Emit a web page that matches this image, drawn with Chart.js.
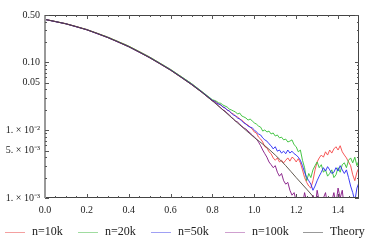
<!DOCTYPE html>
<html>
<head>
<meta charset="utf-8">
<script src="https://cdn.jsdelivr.net/npm/chart.js@4.4.1/dist/chart.umd.min.js"></script>
<style>
  html, body { margin: 0; padding: 0; background: #fff; }
  #wrap { position: relative; width: 374px; height: 247px; }
  #legend {
    position: absolute; left: 0; top: 223px; width: 374px; height: 16px;
    font-family: "Times New Roman", "Liberation Serif", serif; font-size: 12px; color: #222;
  }
  #legend .item { position: absolute; top: 0; white-space: nowrap; line-height: 16px; }
  #legend .line { display: inline-block; width: 20px; height: 0; border-top: 1px solid; vertical-align: middle; margin-right: 7px; }
</style>
</head>
<body>
<div id="wrap">
  <canvas id="chart" width="374" height="247"></canvas>
  <div id="legend"></div>
</div>
<script>
// x grid shared by the simulated series
const xs = [0, 0.1, 0.2, 0.3, 0.4, 0.5, 0.6, 0.7, 0.75,
  0.80, 0.81, 0.82, 0.83, 0.84, 0.85, 0.86, 0.87, 0.88, 0.89,
  0.90, 0.91, 0.92, 0.93, 0.94, 0.95, 0.96, 0.97, 0.98, 0.99,
  1.00, 1.01, 1.02, 1.03, 1.04, 1.05, 1.06, 1.07, 1.08, 1.09,
  1.10, 1.11, 1.12, 1.13, 1.14, 1.15, 1.16, 1.17, 1.18, 1.19,
  1.20, 1.21, 1.22, 1.23, 1.24, 1.25, 1.26, 1.27, 1.28, 1.29,
  1.30, 1.31, 1.32, 1.33, 1.34, 1.35, 1.36, 1.37, 1.38, 1.39,
  1.40, 1.41, 1.42, 1.43, 1.44, 1.45, 1.46, 1.47, 1.48, 1.49,
  1.50];

const n10k = [0.432, 0.373, 0.306, 0.236, 0.174, 0.120, 0.0785, 0.0485, 0.0368,
  0.0276, 0.0268, 0.0259, 0.0243, 0.0235, 0.0220, 0.0213, 0.0199, 0.0192, 0.0179,
  0.0173, 0.0162, 0.0157, 0.0146, 0.0141, 0.0132, 0.0123, 0.0119, 0.0111, 0.0104,
  0.0094, 0.0091, 0.0079, 0.0074, 0.0067, 0.0057, 0.0055, 0.0048, 0.0045, 0.0039,
  0.0036, 0.0039, 0.0034, 0.0036, 0.0033, 0.0036, 0.0039, 0.0035, 0.0040, 0.0038,
  0.0034, 0.0038, 0.0033, 0.0026, 0.0020, 0.0017, 0.0015, 0.0014, 0.0018, 0.0026,
  0.0034, 0.0039, 0.0043, 0.0040, 0.0048, 0.0043, 0.0051, 0.0046, 0.0053, 0.0057,
  0.0051, 0.0059, 0.0048, 0.0043, 0.0039, 0.0034, 0.0030, 0.0022, 0.0018, 0.0024,
  0.0028];

const n20k = [0.431, 0.372, 0.305, 0.236, 0.174, 0.120, 0.0788, 0.0488, 0.0371,
  0.0281, 0.0275, 0.0266, 0.0252, 0.0249, 0.0235, 0.0227, 0.0220, 0.0205, 0.0199,
  0.0192, 0.0186, 0.0173, 0.0179, 0.0162, 0.0157, 0.0151, 0.0141, 0.0146, 0.0137,
  0.0128, 0.0123, 0.0115, 0.0111, 0.0097, 0.0101, 0.0094, 0.0097, 0.0088, 0.0091,
  0.0082, 0.0085, 0.0077, 0.0079, 0.0072, 0.0074, 0.0067, 0.0069, 0.0072, 0.0061,
  0.0057, 0.0048, 0.0051, 0.0036, 0.0028, 0.0018, 0.0023, 0.0020, 0.0026, 0.0030,
  0.0034, 0.0028, 0.0031, 0.0024, 0.0026, 0.0021, 0.0023, 0.0026, 0.0020, 0.0022,
  0.0028, 0.0024, 0.0031, 0.0033, 0.0028, 0.0036, 0.0039, 0.0033, 0.0040, 0.0030,
  0.0036];

const n50k = [0.430, 0.371, 0.303, 0.233, 0.171, 0.118, 0.0775, 0.0478, 0.0365,
  0.0275, 0.0267, 0.0252, 0.0243, 0.0235, 0.0220, 0.0213, 0.0199, 0.0192, 0.0179,
  0.0168, 0.0162, 0.0151, 0.0146, 0.0137, 0.0128, 0.0123, 0.0115, 0.0111, 0.0108,
  0.0101, 0.0094, 0.0088, 0.0085, 0.0077, 0.0072, 0.0069, 0.0063, 0.0059, 0.0053,
  0.0057, 0.0049, 0.0051, 0.0046, 0.0049, 0.0045, 0.0051, 0.0046, 0.0049, 0.0045,
  0.0043, 0.0040, 0.0036, 0.0030, 0.0024, 0.0020, 0.0018, 0.0016, 0.0013, 0.0015,
  0.0018, 0.0021, 0.0024, 0.0028, 0.0025, 0.0029, 0.0026, 0.0023, 0.0024, 0.0028,
  0.0025, 0.0030, 0.0026, 0.0023, 0.0026, 0.0020, 0.0015, 0.0012, 0.0009, 0.0014,
  0.0017];

const n100k = [0.430, 0.370, 0.302, 0.232, 0.170, 0.117, 0.0767, 0.0472, 0.0361,
  0.0270, 0.0261, 0.0243, 0.0227, 0.0213, 0.0199, 0.0192, 0.0179, 0.0168, 0.0157,
  0.0146, 0.0137, 0.0132, 0.0123, 0.0115, 0.0108, 0.0104, 0.0097, 0.0091, 0.0085,
  0.0079, 0.0074, 0.0067, 0.0059, 0.0051, 0.0045, 0.0040, 0.0034, 0.0031, 0.0028,
  0.0030, 0.0024, 0.0021, 0.0023, 0.0018, 0.0016, 0.0017, 0.0013, 0.0011, 0.0012,
  0.0009, 0.0010, 0.0007, 0.0008, 0.0012, 0.0009, 0.0006, 0.0008, 0.0011, 0.0007,
  0.0013, 0.0009, 0.0007, 0.0010, 0.0012, 0.0008, 0.0006, 0.0009, 0.0012, 0.0008,
  0.0014, 0.0010, 0.0013, 0.0007, 0.0009, 0.0006, 0.0008, 0.0005, 0.0007, 0.0006,
  0.0005];

const theoryX = [0, 0.1, 0.2, 0.3, 0.4, 0.5, 0.6, 0.7, 0.75, 0.8, 0.85, 0.9, 0.95,
  1.0, 1.05, 1.1, 1.15, 1.2, 1.25, 1.3, 1.35];
const theoryY = [0.430, 0.370, 0.302, 0.232, 0.170, 0.117, 0.0765, 0.0470, 0.0360, 0.0270,
  0.0199, 0.0145, 0.0106, 0.0078, 0.0059, 0.0043, 0.0030, 0.0020, 0.00135, 0.00090, 0.00060];

const xTicks = [0, 0.2, 0.4, 0.6, 0.8, 1.0, 1.2, 1.4];
const yTicks = [0.5, 0.1, 0.05, 0.01, 0.005, 0.001];
const yTickLabels = ['0.50', '0.10', '0.05', '1. \u00d7 10\u207b\u00b2', '5. \u00d7 10\u207b\u00b3', '1. \u00d7 10\u207b\u00b3'];
const yMinor = [0.4, 0.3, 0.2, 0.09, 0.08, 0.07, 0.06, 0.04, 0.03, 0.02,
  0.009, 0.008, 0.007, 0.006, 0.004, 0.003, 0.002];

const seriesNames = ['n=10k', 'n=20k', 'n=50k', 'n=100k', 'Theory'];
const lineColors = ['rgb(245,70,70)', 'rgb(50,190,50)', 'rgb(40,40,245)', 'rgb(130,20,130)', 'rgb(80,70,60)'];
const legendColors = ['#f4a0a0', '#a0dca0', '#a0a0f4', '#cfa0cf', '#999999'];

const pts = (xv, yv) => xv.map((x, i) => ({ x: x, y: yv[i] }));

// frame + inward ticks, Mathematica style
const framePlugin = {
  id: 'frame',
  afterDraw(chart) {
    const ctx = chart.ctx, a = chart.chartArea;
    const sx = chart.scales.x, sy = chart.scales.y;
    ctx.save();
    ctx.lineWidth = 1;
    ctx.strokeStyle = '#444';
    ctx.beginPath();
    ctx.moveTo(a.left, a.top + 0.5); ctx.lineTo(a.right, a.top + 0.5);
    ctx.moveTo(a.right - 0.5, a.top); ctx.lineTo(a.right - 0.5, a.bottom);
    ctx.moveTo(a.left, a.bottom - 0.5); ctx.lineTo(a.right, a.bottom - 0.5);
    ctx.stroke();
    ctx.strokeStyle = '#999';
    ctx.lineWidth = 2;
    ctx.beginPath();
    ctx.moveTo(a.left, a.top); ctx.lineTo(a.left, a.bottom);
    ctx.stroke();

    ctx.lineWidth = 1;
    ctx.strokeStyle = '#555';
    ctx.beginPath();
    for (let v = 0.05; v < 1.5; v += 0.05) {
      const px = Math.round(sx.getPixelForValue(v)) + 0.5;
      const major = Math.abs(v / 0.2 - Math.round(v / 0.2)) < 1e-6;
      const len = major ? 4 : 2;
      ctx.moveTo(px, a.bottom); ctx.lineTo(px, a.bottom - len);
      ctx.moveTo(px, a.top); ctx.lineTo(px, a.top + len);
    }
    yTicks.concat(yMinor).forEach((v, i) => {
      const py = Math.round(sy.getPixelForValue(v)) + 0.5;
      const len = i < yTicks.length ? 4 : 2;
      ctx.moveTo(a.left, py); ctx.lineTo(a.left + len, py);
      ctx.moveTo(a.right, py); ctx.lineTo(a.right - len, py);
    });
    ctx.stroke();
    ctx.restore();
  }
};

const tickFont = { family: "'Times New Roman', 'Liberation Serif', serif", size: 10 };

new Chart(document.getElementById('chart'), {
  type: 'line',
  data: {
    datasets: [
      { label: seriesNames[0], data: pts(xs, n10k), borderColor: lineColors[0], order: 5 },
      { label: seriesNames[1], data: pts(xs, n20k), borderColor: lineColors[1], order: 4 },
      { label: seriesNames[2], data: pts(xs, n50k), borderColor: lineColors[2], order: 3 },
      { label: seriesNames[3], data: pts(xs, n100k), borderColor: lineColors[3], order: 2 },
      { label: seriesNames[4], data: pts(theoryX, theoryY), borderColor: lineColors[4], order: 1, cubicInterpolationMode: 'monotone' }
    ]
  },
  options: {
    responsive: false,
    animation: false,
    layout: { padding: { top: 15, right: 15, left: 0, bottom: 0 } },
    elements: {
      point: { radius: 0 },
      line: { borderWidth: 0.9, fill: false }
    },
    datasets: { line: { clip: 0 } },
    scales: {
      x: {
        type: 'linear', min: 0, max: 1.5,
        afterBuildTicks: s => { s.ticks = xTicks.map(v => ({ value: v })); },
        afterFit: s => { s.height = 49; },
        grid: { display: false, drawTicks: false },
        border: { display: false },
        ticks: { font: tickFont, color: '#222', padding: 6, maxRotation: 0,
          callback: v => v.toFixed(1) }
      },
      y: {
        type: 'logarithmic', min: 0.001, max: 0.5,
        afterBuildTicks: s => { s.ticks = yTicks.map(v => ({ value: v })); },
        afterFit: s => { s.width = 45; },
        grid: { display: false, drawTicks: false },
        border: { display: false },
        ticks: { font: tickFont, color: '#222', padding: 5,
          callback: v => { const i = yTicks.indexOf(v); return i >= 0 ? yTickLabels[i] : ''; } }
      }
    },
    plugins: {
      legend: { display: false },
      tooltip: { enabled: false }
    }
  },
  plugins: [framePlugin]
});

// legend under the plot
const legendPos = [5, 78, 151, 225, 303];
const legend = document.getElementById('legend');
seriesNames.forEach((name, i) => {
  const item = document.createElement('div');
  item.className = 'item';
  item.style.left = legendPos[i] + 'px';
  item.innerHTML = '<span class="line" style="border-color:' + legendColors[i] + '"></span>' + name;
  legend.appendChild(item);
});
</script>
</body>
</html>
